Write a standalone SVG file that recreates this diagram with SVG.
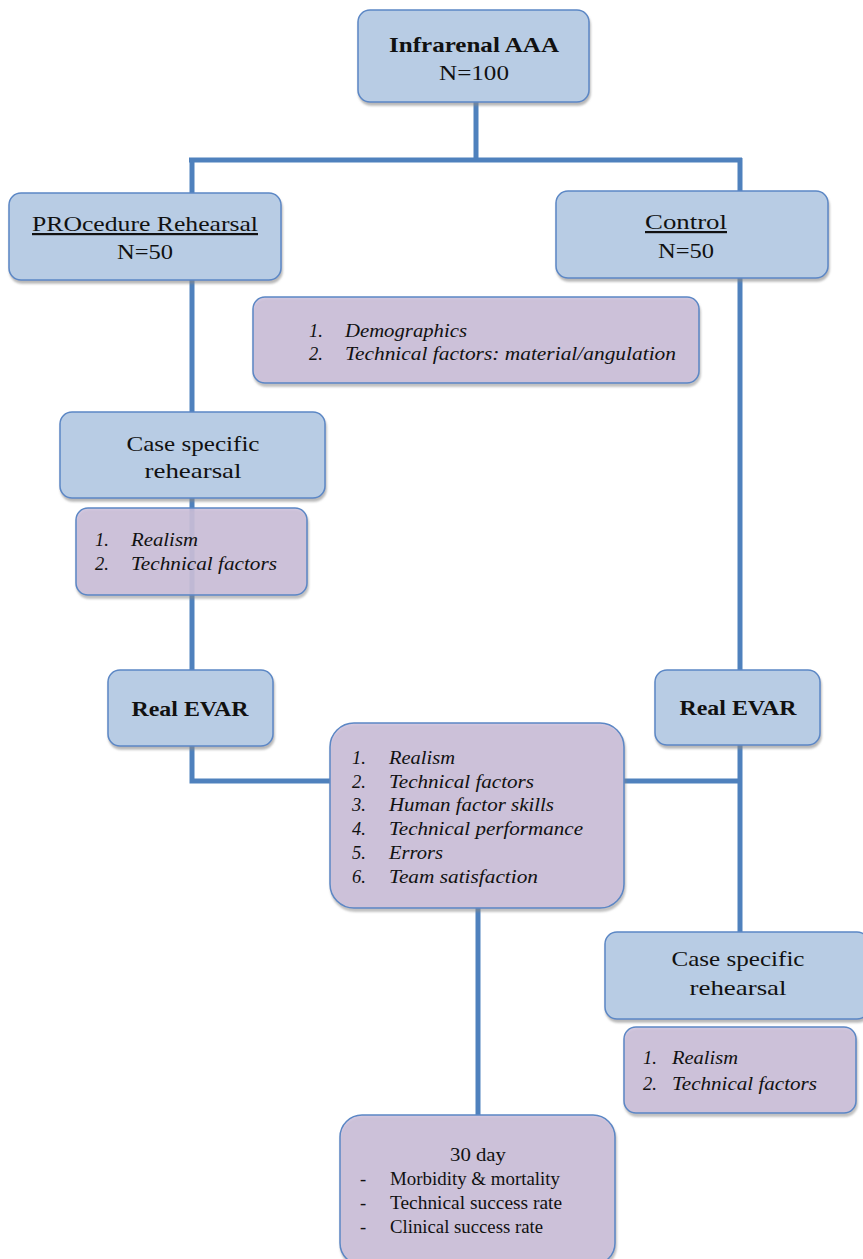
<svg xmlns="http://www.w3.org/2000/svg" width="863" height="1259" viewBox="0 0 863 1259">
<defs>
<filter id="sh" x="-5%" y="-5%" width="110%" height="120%">
<feDropShadow dx="1" dy="3" stdDeviation="1.2" flood-color="#888" flood-opacity="0.6"/>
</filter>
<style>
.blue{fill:#b8cce4;stroke:#5b87c5;stroke-width:1.5;filter:url(#sh)}
.purp{fill:#ccc0da;fill-opacity:0.85;stroke:#5b87c5;stroke-width:1.5;filter:url(#sh)}
.ln{stroke:#4f81bd;stroke-width:5;fill:none}
text{font-family:"Liberation Serif","DejaVu Serif",serif;fill:#111}
.t20{font-size:22px}
.b{font-weight:bold}
.it{font-style:italic;font-size:18.5px}
.c{text-anchor:middle}
.r{font-size:18.5px}
</style>
</defs>
<rect width="863" height="1259" fill="#fff"/>
<g id="connectors">
<path class="ln" d="M476 102V160M189 160H742M192 158V670M740 158V670M192 746V781H330M624 781H742M740 745V932M478 908V1115"/>
</g>
<g id="n-top">
<rect class="blue" x="358" y="10" width="231" height="92" rx="12"/>
<text class="t20 b c" x="474" y="52" textLength="170" lengthAdjust="spacingAndGlyphs">Infrarenal AAA</text>
<text class="t20 c" x="474" y="80" textLength="70" lengthAdjust="spacingAndGlyphs">N=100</text>
</g>
<g id="n-pro">
<rect class="blue" x="9" y="193" width="272" height="87" rx="12"/>
<text class="t20 c" x="145" y="231" text-decoration="underline" textLength="226" lengthAdjust="spacingAndGlyphs">PROcedure Rehearsal</text>
<text class="t20 c" x="145" y="259" textLength="56" lengthAdjust="spacingAndGlyphs">N=50</text>
</g>
<g id="n-control">
<rect class="blue" x="556" y="191" width="272" height="87" rx="12"/>
<text class="t20 c" x="686" y="229" text-decoration="underline" textLength="82" lengthAdjust="spacingAndGlyphs">Control</text>
<text class="t20 c" x="686" y="258" textLength="56" lengthAdjust="spacingAndGlyphs">N=50</text>
</g>
<g id="n-demo">
<rect class="purp" x="253" y="297" width="446" height="86" rx="12"/>
<text class="it" x="309" y="337">1.</text>
<text class="it" x="345" y="337" textLength="122" lengthAdjust="spacingAndGlyphs">Demographics</text>
<text class="it" x="309" y="360">2.</text>
<text class="it" x="345" y="360" textLength="331" lengthAdjust="spacingAndGlyphs">Technical factors: material/angulation</text>
</g>
<g id="n-case-left">
<rect class="blue" x="60" y="412" width="265" height="86" rx="12"/>
<text class="t20 c" x="193" y="451" textLength="133" lengthAdjust="spacingAndGlyphs">Case specific</text>
<text class="t20 c" x="193" y="478" textLength="97" lengthAdjust="spacingAndGlyphs">rehearsal</text>
</g>
<g id="n-realism-left">
<rect class="purp" x="76" y="508" width="231" height="87" rx="12"/>
<text class="it" x="95" y="546">1.</text>
<text class="it" x="131" y="546" textLength="67" lengthAdjust="spacingAndGlyphs">Realism</text>
<text class="it" x="95" y="570">2.</text>
<text class="it" x="131" y="570" textLength="146" lengthAdjust="spacingAndGlyphs">Technical factors</text>
</g>
<g id="n-evar-left">
<rect class="blue" x="108" y="670" width="165" height="76" rx="12"/>
<text class="t20 b c" x="190" y="716" textLength="117" lengthAdjust="spacingAndGlyphs">Real EVAR</text>
</g>
<g id="n-evar-right">
<rect class="blue" x="655" y="670" width="165" height="75" rx="12"/>
<text class="t20 b c" x="738" y="715" textLength="117" lengthAdjust="spacingAndGlyphs">Real EVAR</text>
</g>
<g id="n-outcomes">
<rect class="purp" x="330" y="723" width="294" height="185" rx="24"/>
<text class="it" x="352" y="764">1.</text>
<text class="it" x="389" y="764" textLength="66" lengthAdjust="spacingAndGlyphs">Realism</text>
<text class="it" x="352" y="788">2.</text>
<text class="it" x="389" y="788" textLength="145" lengthAdjust="spacingAndGlyphs">Technical factors</text>
<text class="it" x="352" y="811">3.</text>
<text class="it" x="389" y="811" textLength="165" lengthAdjust="spacingAndGlyphs">Human factor skills</text>
<text class="it" x="352" y="835">4.</text>
<text class="it" x="389" y="835" textLength="194" lengthAdjust="spacingAndGlyphs">Technical performance</text>
<text class="it" x="352" y="859">5.</text>
<text class="it" x="389" y="859" textLength="54" lengthAdjust="spacingAndGlyphs">Errors</text>
<text class="it" x="352" y="883">6.</text>
<text class="it" x="389" y="883" textLength="149" lengthAdjust="spacingAndGlyphs">Team satisfaction</text>
</g>
<g id="n-case-right">
<rect class="blue" x="605" y="932" width="264" height="87" rx="12"/>
<text class="t20 c" x="738" y="966" textLength="133" lengthAdjust="spacingAndGlyphs">Case specific</text>
<text class="t20 c" x="738" y="995" textLength="97" lengthAdjust="spacingAndGlyphs">rehearsal</text>
</g>
<g id="n-realism-right">
<rect class="purp" x="624" y="1027" width="232" height="86" rx="12"/>
<text class="it" x="643" y="1064">1.</text>
<text class="it" x="672" y="1064" textLength="66" lengthAdjust="spacingAndGlyphs">Realism</text>
<text class="it" x="643" y="1090">2.</text>
<text class="it" x="672" y="1090" textLength="145" lengthAdjust="spacingAndGlyphs">Technical factors</text>
</g>
<g id="n-30day">
<rect class="purp" x="340" y="1115" width="275" height="150" rx="22"/>
<text class="r c" x="478" y="1161" textLength="56" lengthAdjust="spacingAndGlyphs">30 day</text>
<text class="r" x="360" y="1185">-</text>
<text class="r" x="390" y="1185" textLength="170" lengthAdjust="spacingAndGlyphs">Morbidity &amp; mortality</text>
<text class="r" x="360" y="1209">-</text>
<text class="r" x="390" y="1209" textLength="172" lengthAdjust="spacingAndGlyphs">Technical success rate</text>
<text class="r" x="360" y="1233">-</text>
<text class="r" x="390" y="1233" textLength="153" lengthAdjust="spacingAndGlyphs">Clinical success rate</text>
</g>
</svg>
